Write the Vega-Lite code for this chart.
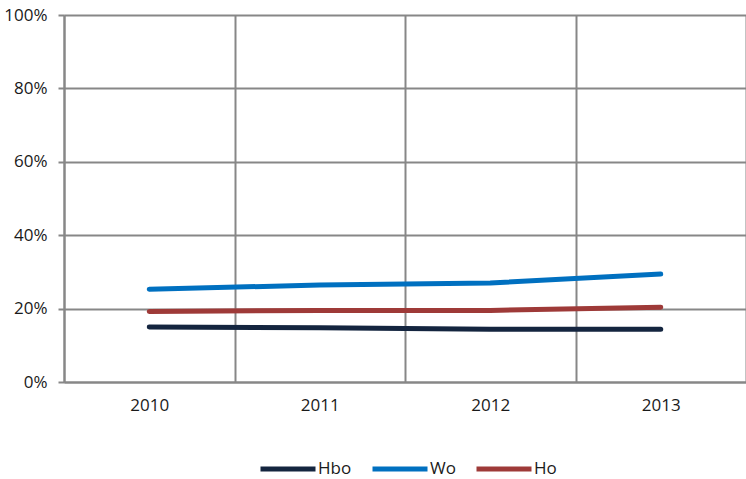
{
  "$schema": "https://vega.github.io/schema/vega-lite/v6.json",
  "width": 682,
  "height": 367,
  "padding": {"left": 64, "top": 15, "right": 0, "bottom": 97},
  "autosize": {"type": "none"},
  "background": "white",
  "config": {
    "view": {"stroke": null},
    "font": "Open Sans",
    "axis": {"labelFont": "Open Sans", "labelFontSize": 17, "labelColor": "#1a1a1a", "gridColor": "#878787", "gridWidth": 2, "gridOpacity": 1, "domainColor": "#878787", "domainWidth": 2, "tickColor": "#878787", "tickWidth": 2, "title": null}
  },
  "data": {
    "values": [
      {"year": "2010", "series": "Hbo", "value": 0.150},
      {"year": "2011", "series": "Hbo", "value": 0.148},
      {"year": "2012", "series": "Hbo", "value": 0.144},
      {"year": "2013", "series": "Hbo", "value": 0.144},
      {"year": "2010", "series": "Wo", "value": 0.253},
      {"year": "2011", "series": "Wo", "value": 0.264},
      {"year": "2012", "series": "Wo", "value": 0.270},
      {"year": "2013", "series": "Wo", "value": 0.294},
      {"year": "2010", "series": "Ho", "value": 0.192},
      {"year": "2011", "series": "Ho", "value": 0.195},
      {"year": "2012", "series": "Ho", "value": 0.195},
      {"year": "2013", "series": "Ho", "value": 0.204}
    ]
  },
  "mark": {"type": "line", "strokeWidth": 5, "strokeCap": "round", "strokeJoin": "round"},
  "encoding": {
    "x": {
      "field": "year", "type": "ordinal",
      "scale": {"type": "band", "paddingInner": 0, "paddingOuter": 0},
      "axis": {"labelAngle": 0, "ticks": false, "tickBand": "extent", "grid": true, "labelPadding": 15, "domain": true}
    },
    "y": {
      "field": "value", "type": "quantitative",
      "scale": {"domain": [0, 1], "nice": false},
      "axis": {"format": ".0%", "values": [0, 0.2, 0.4, 0.6, 0.8, 1], "tickSize": 6, "labelPadding": 11, "grid": true, "domain": true}
    },
    "color": {
      "field": "series", "type": "nominal",
      "sort": ["Hbo", "Wo", "Ho"],
      "scale": {"domain": ["Hbo", "Wo", "Ho"], "range": ["#14253f", "#0070c0", "#9e3a38"]},
      "legend": {
        "title": null, "orient": "none", "direction": "horizontal",
        "legendX": 194, "legendY": 424, "padding": 0,
        "symbolType": "stroke", "symbolSize": 3025, "symbolStrokeWidth": 5,
        "labelFontSize": 17, "labelFont": "Open Sans", "labelColor": "#1a1a1a",
        "columnPadding": 10, "labelOffset": 0
      }
    }
  }
}
